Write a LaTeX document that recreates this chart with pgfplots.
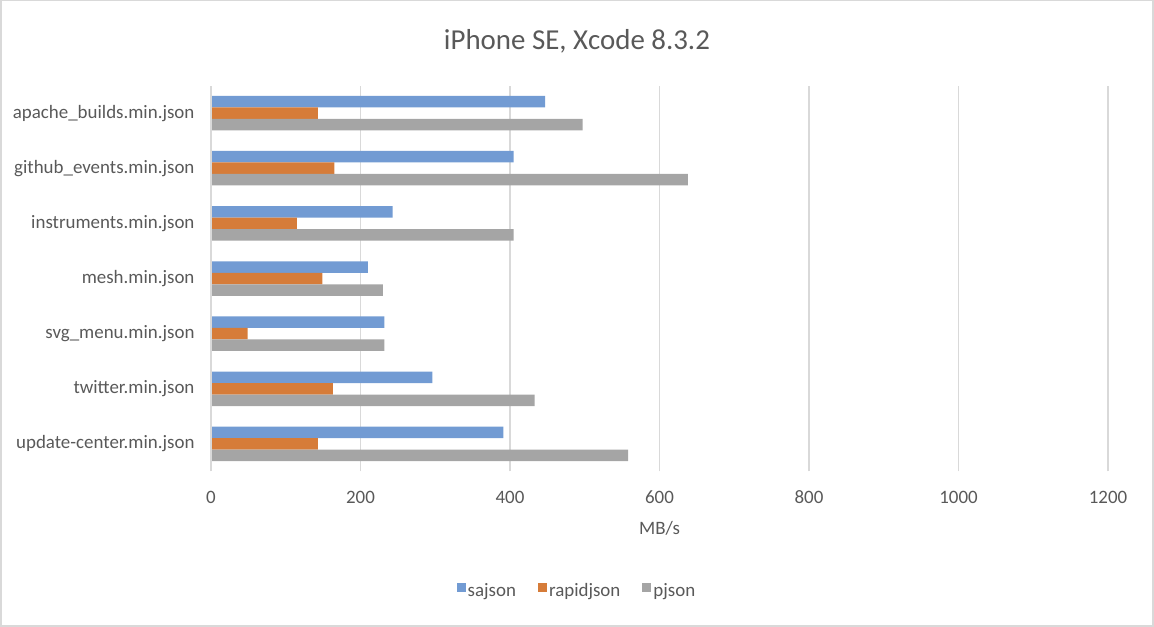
\documentclass[border=0pt]{standalone}
\usepackage{fontspec}
\setmainfont{Carlito}
\usepackage{pgfplots}
\pgfplotsset{compat=1.18}
\definecolor{cblue}{HTML}{729BD3}
\definecolor{corange}{HTML}{D67C39}
\definecolor{cgray}{HTML}{A5A5A5}
\definecolor{cgrid}{HTML}{D9D9D9}
\definecolor{ctext}{HTML}{595959}
\begin{document}
\begin{tikzpicture}
\useasboundingbox (0,0) rectangle (1154bp,627bp);
\draw[cgrid, line width=1.5bp] (0.75bp,626.25bp) rectangle (1152.75bp,1.25bp);
\begin{axis}[
  at={(211bp,155.5bp)}, anchor=south west,
  scale only axis,
  width=897bp, height=386bp,
  xmin=0, xmax=1200,
  ymin=-0.5, ymax=6.5,
  xtick={0,200,...,1200},
  ytick={0,1,2,3,4,5,6},
  yticklabels={update-center.min.json,twitter.min.json,svg\_menu.min.json,mesh.min.json,instruments.min.json,github\_events.min.json,apache\_builds.min.json},
  xmajorgrids,
  grid style={cgrid, line width=1.5bp},
  axis line style={draw=none},
  major tick length=0pt,
  tick style={draw=none},
  /pgf/number format/assume math mode=true,
  /pgf/number format/1000 sep={},
  ticklabel style={font=\fontsize{19}{22}\selectfont, text=ctext},
  xticklabel style={yshift=-16bp},
  yticklabel style={xshift=-13bp},
  title={iPhone SE, Xcode 8.3.2},
  title style={font=\fontsize{29}{34}\selectfont, text=ctext, at={(axis description cs:0.408,1.10)}, anchor=center},
  xlabel={MB/s},
  xlabel style={font=\fontsize{19}{22}\selectfont, text=ctext, at={(axis description cs:0.5,-0.146)}, anchor=center},
  xbar, bar width=11.5bp,
  legend columns=3,
  legend style={draw=none, font=\fontsize{19}{22}\selectfont, text=ctext, at={(axis description cs:0.408,-0.3096)}, anchor=center, /tikz/every even column/.append style={column sep=20bp}},
  legend image code/.code={\fill[#1] (0bp,-1bp) rectangle (9bp,8bp);},
]
\addplot[fill=cblue, draw=none, bar shift=11.5bp] coordinates {
  (447,6) (405,5) (243,4) (210,3) (232,2) (296,1) (391,0)};
\addlegendentry{sajson}
\addplot[fill=corange, draw=none, bar shift=0bp] coordinates {
  (143,6) (165,5) (115,4) (149,3) (49,2) (163,1) (143,0)};
\addlegendentry{rapidjson}
\addplot[fill=cgray, draw=none, bar shift=-11.5bp] coordinates {
  (497,6) (638,5) (405,4) (230,3) (232,2) (433,1) (558,0)};
\addlegendentry{pjson}
\draw[cgrid, line width=1.5bp] (axis cs:0,-0.5) -- (axis cs:0,6.5);
\end{axis}
\end{tikzpicture}
\end{document}
